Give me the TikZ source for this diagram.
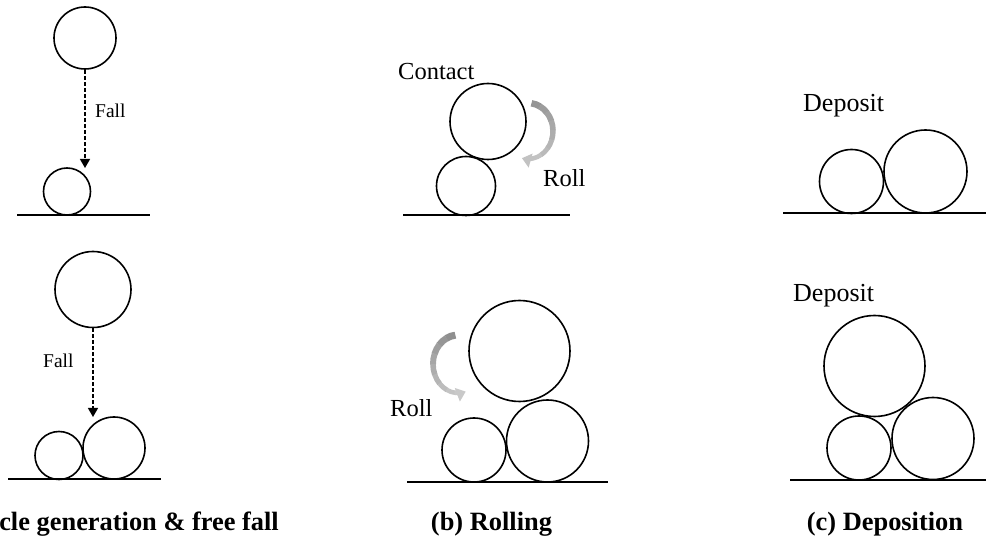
\documentclass[tikz,border=0pt]{standalone}
\usepackage{fontspec}
\setmainfont{Liberation Serif}
\usetikzlibrary{arrows.meta}
\begin{document}
\begin{tikzpicture}[x=1pt,y=-1pt,
  ball/.style={circle,draw,line width=1.6pt,inner sep=0pt,minimum size=#1},
  ground/.style={line width=1.6pt},
  fallarrow/.style={line width=1.3pt,dash pattern=on 4pt off 2pt,-{Triangle[width=10pt,length=9pt]}},
  fallbl/.style={inner sep=0pt,anchor=base west,font=\fontsize{19.5}{22}\selectfont},
  lbl/.style={inner sep=0pt,anchor=base west,font=\fontsize{24.5}{28}\selectfont},
  deplbl/.style={inner sep=0pt,anchor=base west,font=\fontsize{26}{30}\selectfont},
  captxt/.style={inner sep=0pt,font=\fontsize{26.4}{30}\selectfont\bfseries}]
\useasboundingbox (0,0) rectangle (986,545);

% ---------- (a) top ----------
\node[ball=62pt] (a1) at (85,38) {};
\node[ball=47pt] (a2) at (67,191.5) {};
\draw[ground] (17,215) coordinate (ga1) -- (150,215) coordinate (ga2);
\coordinate (a1tip) at (85,168);
\draw[fallarrow] (a1.south) -- (a1tip);
\node[fallbl] (fall1) at (95,118) {Fall};

% ---------- (a) bottom ----------
\node[ball=76pt] (a3) at (93,289.5) {};
\node[ball=48pt] (a4) at (59,455.5) {};
\node[ball=62pt] (a5) at (114,448) {};
\draw[ground] (8,479) coordinate (ga3) -- (161,479) coordinate (ga4);
\coordinate (a3tip) at (93,417);
\draw[fallarrow] (a3.south) -- (a3tip);
\node[fallbl] (fall2) at (43,368) {Fall};
\node[captxt,anchor=base east] (capa) at (279,530) {(a) Particle generation \& free fall};

% ---------- (b) top ----------
\node[lbl] (contact) at (398,80) {Contact};
\node[ball=76pt] (b1) at (488,121.5) {};
\node[ball=59pt] (b2) at (466,186) {};
\draw[ground] (403,215) coordinate (gb1) -- (570,215) coordinate (gb2);
\node[lbl] (roll1) at (543,187) {Roll};
\foreach \i in {0,...,7}{
  \pgfmathsetmacro\aa{82-\i*20}
  \pgfmathsetmacro\ab{\aa-21}
  \pgfmathtruncatemacro\cc{42-\i*2.5}
  \pgfmathsetmacro\lw{6.5-\i*0.28}
  \draw[line width=\lw pt,color=black!\cc,shift={(528,131)}]
    (\aa:25pt and 28pt) arc[start angle=\aa,end angle=\ab,x radius=25pt,y radius=28pt];
}
\draw[line width=4.4pt,color=black!24,shift={(528,131)},-{Triangle[width=14pt,length=9pt]}]
  (-78:25pt and 28pt) arc[start angle=-78,end angle=-104,x radius=25pt,y radius=28pt];

% ---------- (b) bottom ----------
\node[ball=101pt] (b3) at (519.5,351) {};
\node[ball=64pt] (b4) at (474,450) {};
\node[ball=82pt] (b5) at (547.5,441) {};
\draw[ground] (407,482) coordinate (gb3) -- (608,482) coordinate (gb4);
\node[lbl] (roll2) at (390,417) {Roll};
\foreach \i in {0,...,7}{
  \pgfmathsetmacro\aa{96+\i*21}
  \pgfmathsetmacro\ab{\aa+22}
  \pgfmathtruncatemacro\cc{44-\i*3}
  \pgfmathsetmacro\lw{7-\i*0.35}
  \draw[line width=\lw pt,color=black!\cc,shift={(458,364)}]
    (\aa:25pt and 29pt) arc[start angle=\aa,end angle=\ab,x radius=25pt,y radius=29pt];
}
\draw[line width=4.4pt,color=black!21,shift={(458,364)},-{Triangle[width=14pt,length=9pt]}]
  (262:25pt and 29pt) arc[start angle=262,end angle=288,x radius=25pt,y radius=29pt];
\node[captxt,anchor=base] (capb) at (491.5,530) {(b) Rolling};

% ---------- (c) top ----------
\node[deplbl] (dep1) at (803,112) {Deposit};
\node[ball=64pt] (c1) at (851.5,181.5) {};
\node[ball=83pt] (c2) at (925.5,171.5) {};
\draw[ground] (783,213) coordinate (gc1) -- (986,213) coordinate (gc2);

% ---------- (c) bottom ----------
\node[deplbl] (dep2) at (793,302) {Deposit};
\node[ball=101pt] (c3) at (874.5,366) {};
\node[ball=64pt] (c4) at (859,448) {};
\node[ball=82pt] (c5) at (933,438.5) {};
\draw[ground] (790,480) coordinate (gc3) -- (986,480) coordinate (gc4);
\node[captxt,anchor=base] (capc) at (885,530) {(c) Deposition};
\end{tikzpicture}
\end{document}
